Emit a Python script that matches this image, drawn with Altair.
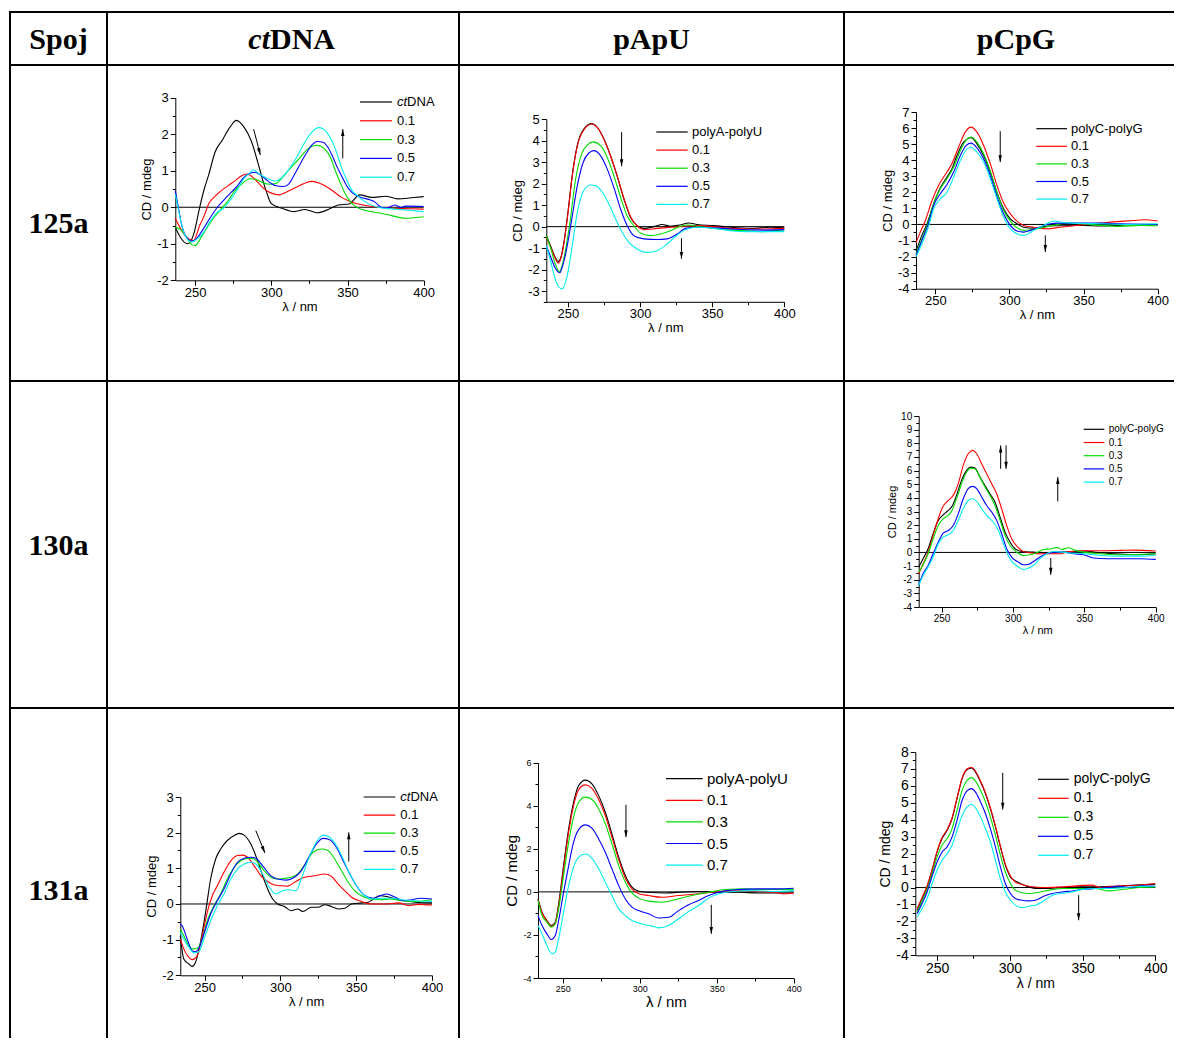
import math
import altair as alt
import pandas as pd

# ---------------------------------------------------------------- labels
HEADERS = ["Spoj", "ctDNA", "pApU", "pCpG"]
ROW_LABELS = ["125a", "130a", "131a"]
RATIOS = ["0.1", "0.3", "0.5", "0.7"]
REF_CT = "ctDNA"
REF_AU = "polyA-polyU"
REF_CG = "polyC-polyG"
COLORS = ["#000000", "#ff0000", "#00dd00", "#0000ff", "#00eeee"]
X_TICKS = [250, 300, 350, 400]
X_MINOR = [275, 325, 375]

# ---------------------------------------------------------------- 125a / ctDNA
C125_REF_X = [237, 240, 245, 249, 253, 256, 259, 263, 268, 273, 277, 282, 287, 291, 294, 297, 300, 307, 315, 322, 330, 338, 344, 351, 358, 366, 375, 383, 392, 400]
C125_REF_Y = [-0.55, -0.8, -1.0, -0.75, 0.0, 0.5, 0.9, 1.5, 1.85, 2.2, 2.38, 2.2, 1.8, 1.25, 0.8, 0.4, 0.1, -0.03, -0.12, -0.06, -0.15, -0.05, 0.06, 0.09, 0.34, 0.27, 0.3, 0.23, 0.26, 0.29]
C125_R1_X = [237, 240, 245, 249, 253, 256, 259, 263, 267, 272, 277, 280, 284, 289, 293, 297, 302, 305, 309, 314, 319, 323, 327, 332, 336, 340, 346, 353, 362, 370, 381, 390, 400]
C125_R1_Y = [-0.3, -0.55, -0.85, -0.91, -0.5, -0.23, 0.1, 0.3, 0.45, 0.6, 0.75, 0.85, 0.91, 0.78, 0.6, 0.45, 0.36, 0.34, 0.4, 0.5, 0.6, 0.68, 0.71, 0.65, 0.57, 0.46, 0.27, 0.14, 0.05, 0.0, -0.03, -0.04, -0.05]
C125_R3_X = [237, 240, 244, 248, 250, 254, 258, 262, 267, 272, 276, 281, 286, 290, 294, 299, 303, 307, 311, 318, 324, 330, 335, 339, 342, 345, 348, 352, 355, 362, 370, 379, 388, 395, 400]
C125_R3_Y = [-0.55, -0.6, -0.8, -1.03, -1.05, -0.82, -0.55, -0.3, -0.05, 0.2, 0.45, 0.65, 0.78, 0.76, 0.68, 0.63, 0.65, 0.8, 1.0, 1.32, 1.6, 1.7, 1.6, 1.35, 1.0, 0.7, 0.41, 0.15, 0.03, -0.09, -0.15, -0.23, -0.3, -0.28, -0.26]
C125_R5_X = [237, 239, 241, 244, 248, 251, 255, 260, 265, 270, 274, 278, 282, 286, 289, 293, 296, 300, 303, 308, 311, 316, 322, 327, 330, 334, 337, 340, 343, 346, 350, 353, 359, 365, 368, 372, 376, 381, 385, 388, 400]
C125_R5_Y = [0.45, 0.0, -0.45, -0.8, -0.93, -0.85, -0.62, -0.28, 0.02, 0.25, 0.42, 0.6, 0.82, 0.93, 0.96, 0.88, 0.78, 0.65, 0.59, 0.57, 0.62, 0.96, 1.41, 1.72, 1.8, 1.78, 1.65, 1.41, 1.12, 0.87, 0.55, 0.4, 0.27, 0.2, 0.14, 0.0, -0.02, 0.06, 0.0, 0.03, 0.02]
C125_R7_X = [237, 239, 241, 244, 248, 251, 255, 260, 265, 268, 274, 278, 282, 286, 288, 292, 296, 300, 303, 306, 309, 316, 322, 327, 331, 334, 338, 342, 346, 350, 353, 357, 362, 370, 375, 381, 392, 400]
C125_R7_Y = [0.35, -0.05, -0.45, -0.82, -0.95, -0.88, -0.72, -0.38, -0.12, -0.05, 0.25, 0.5, 0.78, 0.95, 1.02, 0.92, 0.82, 0.74, 0.72, 0.78, 0.9, 1.32, 1.78, 2.08, 2.18, 2.15, 1.95, 1.6, 1.1, 0.7, 0.46, 0.3, 0.14, 0.0, -0.03, -0.05, -0.09, -0.12]

# ---------------------------------------------------------------- 125a / pApU
U125_REF_X = [235, 238, 241, 243.3, 245, 247.2, 250, 253, 256.5, 261, 266.4, 270.3, 275, 279.5, 284, 288.8, 293.4, 298, 302.6, 309.5, 315.3, 321, 328, 333.8, 339.5, 351, 362.6, 376.5, 390.3, 400]
U125_REF_Y = [-0.4, -0.9, -1.4, -1.63, -1.45, -0.73, 0.67, 2.4, 3.8, 4.55, 4.8, 4.63, 4.08, 3.3, 2.38, 1.29, 0.43, 0.05, -0.08, 0.0, 0.1, 0.02, 0.08, 0.17, 0.1, 0.05, -0.03, -0.08, -0.03, -0.05]
U125_R1_X = [235, 238, 241, 243.5, 245, 247.2, 250, 253, 256.5, 261, 266.4, 270.3, 275, 279.5, 284, 288.8, 293.4, 298, 302.6, 311.8, 321, 330.3, 339.5, 351, 362.6, 376.5, 385.7, 400]
U125_R1_Y = [-0.5, -0.95, -1.45, -1.7, -1.5, -0.8, 0.6, 2.35, 3.75, 4.5, 4.78, 4.62, 4.06, 3.3, 2.4, 1.32, 0.47, 0.02, -0.14, -0.08, -0.03, 0.02, 0.05, 0.0, -0.08, -0.11, -0.11, -0.08]
U125_R3_X = [235, 238, 241, 244.2, 246, 248.4, 251.4, 255.3, 259.9, 263.4, 267.5, 272.6, 277.2, 281.8, 286.5, 291, 295.7, 300.3, 307.2, 314.2, 321, 328, 333.8, 339.5, 351, 362.6, 374, 385.7, 400]
U125_R3_Y = [-0.42, -1.0, -1.7, -2.1, -1.8, -1.04, 0.2, 2.2, 3.46, 3.8, 3.95, 3.77, 3.23, 2.38, 1.37, 0.51, 0.05, -0.3, -0.42, -0.34, -0.19, 0.02, 0.08, 0.02, -0.08, -0.16, -0.19, -0.23, -0.14]
U125_R5_X = [235, 238, 241, 244.4, 246, 248.4, 252.3, 256.5, 260.6, 264.5, 268, 272.6, 277.2, 281.8, 286.5, 291, 295.7, 302.6, 311.8, 318.8, 325.7, 331.5, 339.5, 351, 362.6, 385.7, 400]
U125_R5_Y = [-0.9, -1.4, -1.9, -2.15, -1.9, -1.27, 0.2, 1.91, 3.0, 3.43, 3.54, 3.31, 2.69, 1.83, 0.82, 0.05, -0.42, -0.57, -0.6, -0.57, -0.34, -0.08, -0.03, -0.05, -0.11, -0.16, -0.14]
U125_R7_X = [235, 238, 241, 243.5, 246, 249.5, 253, 256.5, 261, 265.7, 269.2, 273.8, 278.4, 283, 287.6, 292.2, 298, 305, 311.8, 318.8, 325.7, 332.6, 339.5, 351, 362.6, 374, 400]
U125_R7_Y = [-0.9, -1.6, -2.4, -2.8, -2.9, -2.28, -0.89, 0.67, 1.68, 1.94, 1.91, 1.6, 1.06, 0.36, -0.26, -0.73, -1.04, -1.2, -1.12, -0.81, -0.39, -0.11, -0.03, -0.08, -0.19, -0.23, -0.23]

# ---------------------------------------------------------------- 125a / pCpG
G125_REF_X = [237, 241, 244.4, 248.9, 253.4, 257.9, 261.2, 264.6, 269.1, 274.1, 278.1, 282.6, 287.1, 291.6, 296.1, 300.6, 305.1, 309.6, 316.3, 323.1, 329.8, 338.8, 350, 361.3, 374.8, 388.3, 400]
G125_REF_Y = [-1.66, -0.68, 0.04, 1.29, 2.28, 2.95, 3.46, 4.29, 5.12, 5.4, 5.02, 4.29, 3.26, 2.0, 0.98, 0.35, 0.04, -0.17, -0.23, -0.12, -0.08, -0.08, -0.06, -0.1, -0.04, 0.0, -0.02]
G125_R1_X = [237, 239.9, 243.3, 247.8, 252.2, 257.9, 261.2, 265.7, 270.2, 274.1, 278.1, 282.6, 287.1, 291.6, 296.1, 300.6, 305.1, 309.6, 316.3, 325.3, 334.3, 345.6, 361.3, 374.8, 383.8, 390.5, 400]
G125_R1_Y = [-1.14, -0.48, 0.25, 1.49, 2.43, 3.26, 3.78, 4.81, 5.75, 6.06, 5.75, 4.92, 3.78, 2.43, 1.33, 0.66, 0.21, -0.06, -0.17, -0.27, -0.17, -0.06, 0.08, 0.19, 0.25, 0.29, 0.21]
G125_R3_X = [237, 241, 244.8, 248.9, 253.4, 257.9, 262.4, 266.9, 270.9, 274.1, 278.1, 282.6, 287.1, 291.6, 296.1, 300.6, 305.1, 309.6, 314.1, 320.8, 329.8, 338.8, 350, 361.3, 374.8, 388.3, 400]
G125_R3_Y = [-1.83, -0.89, 0.04, 1.29, 2.22, 2.84, 3.57, 4.6, 5.27, 5.44, 5.12, 4.4, 3.32, 2.0, 0.87, 0.21, -0.21, -0.37, -0.33, -0.23, -0.06, 0.08, 0.04, -0.06, -0.12, -0.06, -0.08]
G125_R5_X = [237, 241, 245, 248.9, 253.4, 257.9, 262.4, 266.9, 270.9, 274.1, 278.1, 282.6, 287.1, 291.6, 296.1, 300.6, 305.1, 309.6, 314.1, 318.6, 325.3, 334.3, 347.8, 361.3, 374.8, 400]
G125_R5_Y = [-1.93, -1.0, -0.06, 1.18, 1.91, 2.49, 3.26, 4.29, 4.92, 5.06, 4.77, 4.09, 3.05, 1.74, 0.66, -0.06, -0.41, -0.48, -0.37, -0.23, 0.0, 0.08, 0.08, 0.08, 0.04, 0.0]
G125_R7_X = [237, 241, 245.4, 248.9, 253.4, 257.9, 262.4, 266.9, 270.9, 274.1, 278.1, 282.6, 287.1, 291.6, 296.1, 300.6, 305.1, 308.5, 311.8, 316.3, 323.1, 329.8, 334.3, 343.3, 361.3, 379.3, 400]
G125_R7_Y = [-2.03, -1.2, -0.17, 0.98, 1.6, 2.0, 2.95, 3.98, 4.65, 4.81, 4.5, 3.88, 2.84, 1.6, 0.46, -0.27, -0.58, -0.68, -0.62, -0.37, -0.06, 0.21, 0.15, 0.08, 0.04, 0.0, 0.04]

# ---------------------------------------------------------------- 130a / pCpG
G130_REF_X = [234, 237.1, 240.6, 244.1, 247.7, 250.7, 254.7, 257.7, 260.5, 264, 267.6, 270.6, 273.4, 276.9, 280.4, 283.9, 287.4, 291, 294.5, 298, 301.5, 306.2, 314.4, 326, 337.8, 349.5, 361.2, 375.2, 384.6, 400]
G130_REF_Y = [-1.07, -0.46, 0.27, 1.37, 2.35, 2.71, 3.08, 3.44, 4.18, 5.28, 6.01, 6.25, 6.18, 5.52, 4.91, 4.3, 3.69, 2.59, 1.49, 0.76, 0.27, 0.07, 0.02, -0.02, 0.02, 0.1, -0.02, -0.12, -0.17, -0.1]
G130_R1_X = [234, 237.1, 240.6, 244.1, 247.7, 250.7, 254.7, 258.2, 261.7, 265.2, 268.7, 271.8, 274.6, 278.1, 281.6, 285.1, 288.6, 292.1, 295.6, 299.1, 302.7, 307.3, 312, 319, 324.9, 333.1, 337.8, 349.5, 361.2, 375.2, 384.6, 400]
G130_R1_Y = [-1.56, -0.83, 0.02, 1.25, 2.47, 3.32, 3.81, 4.18, 5.03, 6.38, 7.23, 7.48, 7.23, 6.5, 5.77, 5.03, 4.3, 3.2, 1.98, 1.0, 0.46, 0.07, -0.02, -0.1, -0.1, -0.1, 0.02, 0.12, 0.12, 0.15, 0.17, 0.1]
G130_R3_X = [234, 237.1, 240.6, 244.1, 247.7, 251.2, 254.7, 257.7, 260.5, 264, 267.6, 270.6, 273.4, 276.9, 280.4, 283.9, 287.4, 291, 294.5, 298, 302.7, 307.3, 312, 316.7, 321.4, 327.2, 330.7, 334.2, 338.9, 343.6, 349.5, 361.2, 375.2, 400]
G130_R3_Y = [-1.44, -0.9, -0.1, 1.0, 1.98, 2.47, 2.71, 3.15, 3.93, 5.03, 5.89, 6.18, 6.13, 5.52, 4.79, 4.18, 3.44, 2.35, 1.25, 0.51, 0.02, -0.22, -0.17, -0.02, 0.22, 0.27, 0.37, 0.22, 0.34, 0.15, 0.02, -0.1, -0.17, -0.1]
G130_R5_X = [234, 237.1, 240.6, 244.1, 247.7, 251.2, 254.7, 258.2, 261.7, 265.2, 268.7, 271.8, 274.6, 278.1, 281.6, 285.1, 288.6, 292.1, 295.6, 299.1, 303.8, 307.3, 310.8, 314.4, 319, 323.7, 328.4, 335.4, 342.4, 349.5, 356.5, 365.8, 375.2, 389.2, 400]
G130_R5_Y = [-2.37, -1.56, -0.95, -0.1, 0.76, 1.42, 1.61, 1.98, 2.83, 3.93, 4.67, 4.84, 4.67, 4.06, 3.44, 2.96, 2.35, 1.37, 0.27, -0.34, -0.71, -0.9, -0.88, -0.66, -0.34, -0.1, 0.02, 0.02, -0.1, -0.17, -0.41, -0.46, -0.46, -0.46, -0.51]
G130_R7_X = [234, 237.1, 240.6, 244.1, 247.7, 251.2, 254.7, 258.2, 261.7, 265.2, 268.7, 271.8, 274.6, 278.1, 281.6, 285.1, 288.6, 292.1, 295.6, 299.1, 303.8, 307.3, 310.8, 314.4, 319, 323.7, 328.4, 337.8, 349.5, 361.2, 375.2, 389.2, 400]
G130_R7_Y = [-2.42, -1.69, -1.07, -0.34, 0.64, 1.12, 1.29, 1.61, 2.35, 3.2, 3.81, 3.93, 3.74, 3.2, 2.71, 2.35, 1.86, 1.0, 0.02, -0.66, -1.07, -1.25, -1.15, -0.95, -0.46, -0.1, 0.07, -0.02, -0.1, -0.22, -0.27, -0.27, -0.22]

# ---------------------------------------------------------------- 131a / ctDNA
C131_REF_X = [234, 236.3, 239.6, 241.8, 244, 247.3, 250.7, 254, 257.3, 260.6, 265, 269.5, 272.8, 276.1, 280.5, 285, 288.3, 291.6, 294.9, 298.2, 302.7, 307.1, 311.5, 314.8, 320.4, 324.8, 329.2, 333.6, 338.1, 342.5, 346.9, 353.5, 358, 361.3, 365.7, 370.1, 375.7, 382.3, 389, 400]
C131_REF_Y = [-0.89, -1.54, -1.68, -1.75, -1.64, -1.07, -0.23, 0.7, 1.26, 1.54, 1.78, 1.92, 1.98, 1.93, 1.68, 1.21, 0.79, 0.42, 0.14, 0.0, -0.07, -0.19, -0.14, -0.21, -0.09, -0.09, -0.02, -0.07, -0.14, -0.12, 0.0, 0.03, 0.05, 0.14, 0.23, 0.21, 0.14, 0.09, 0.05, 0.03]
C131_R1_X = [234, 236.3, 239.6, 241.8, 245.1, 248.5, 251.8, 255.1, 258.4, 262.8, 267.3, 271.7, 275, 278.3, 282.7, 287.2, 291.6, 296, 300.4, 304.9, 309.3, 315.9, 322.6, 329.2, 333.6, 338.1, 342.5, 346.9, 353.5, 360.2, 369, 377.9, 384.5, 391.2, 400]
C131_R1_Y = [-0.98, -1.26, -1.5, -1.56, -1.45, -0.89, -0.23, 0.23, 0.51, 0.89, 1.21, 1.36, 1.37, 1.31, 1.07, 0.79, 0.63, 0.53, 0.51, 0.5, 0.61, 0.75, 0.79, 0.84, 0.78, 0.56, 0.37, 0.19, 0.07, 0.0, 0.0, 0.03, -0.05, -0.01, -0.03]
C131_R3_X = [234, 236.3, 239.6, 241.8, 245.1, 248.5, 251.8, 256.2, 260.6, 265, 269.5, 273.9, 278.3, 281.6, 285, 289.4, 293.8, 298.2, 302.7, 307.1, 311.5, 315.9, 321.5, 327, 331.4, 335.8, 340.3, 344.7, 349.1, 353.5, 359, 365.7, 372.3, 380, 389, 400]
C131_R3_Y = [-0.7, -0.89, -1.17, -1.26, -1.24, -0.98, -0.47, -0.05, 0.28, 0.7, 1.03, 1.21, 1.28, 1.28, 1.17, 0.93, 0.75, 0.7, 0.72, 0.75, 0.84, 1.09, 1.45, 1.54, 1.5, 1.26, 0.93, 0.61, 0.37, 0.23, 0.14, 0.12, 0.14, 0.09, 0.07, 0.12]
C131_R5_X = [234, 235.2, 238.5, 241.8, 244, 246.2, 249.6, 254, 258.4, 262.8, 267.3, 271.7, 276.1, 280.5, 283.8, 288.3, 293.8, 298.2, 303.8, 309.3, 313.7, 318.1, 323.7, 328.1, 332.5, 336.9, 341.4, 345.8, 350.2, 355.8, 361.3, 365.7, 370.1, 375.7, 381.2, 386.7, 392.3, 400]
C131_R5_Y = [-0.56, -0.61, -0.98, -1.31, -1.34, -1.24, -0.84, -0.28, 0.09, 0.42, 0.84, 1.17, 1.28, 1.31, 1.28, 1.07, 0.79, 0.7, 0.67, 0.75, 0.93, 1.26, 1.68, 1.84, 1.8, 1.59, 1.21, 0.84, 0.51, 0.23, 0.16, 0.23, 0.28, 0.19, 0.09, 0.12, 0.16, 0.14]
C131_R7_X = [234, 236.3, 239.6, 242.9, 246.2, 249.6, 254, 258.4, 262.8, 267.3, 271.7, 276.1, 280.5, 283.8, 288.3, 292.7, 297.1, 301.5, 306, 310.4, 313.7, 318.1, 323.7, 328.1, 332.5, 336.9, 341.4, 345.8, 350.2, 355.8, 361.3, 366.8, 373.5, 380, 389, 400]
C131_R7_Y = [-0.79, -0.98, -1.21, -1.37, -1.34, -0.98, -0.47, -0.05, 0.28, 0.7, 0.98, 1.12, 1.17, 1.12, 0.84, 0.47, 0.28, 0.37, 0.4, 0.37, 0.7, 1.21, 1.73, 1.93, 1.87, 1.64, 1.26, 0.84, 0.51, 0.23, 0.14, 0.16, 0.16, 0.12, 0.09, 0.07]

# ---------------------------------------------------------------- 131a / pApU
U131_REF_X = [234, 236.6, 239.8, 242.6, 245.2, 247.4, 250.6, 253.9, 257.1, 260.4, 264.7, 269, 273.4, 277.7, 282, 286.4, 290.7, 295, 299.4, 305.8, 316.7, 325.3, 338.3, 351.3, 364.3, 377.3, 390.3, 400]
U131_REF_Y = [-0.33, -0.94, -1.33, -1.56, -1.41, -0.56, 1.22, 2.93, 4.16, 4.94, 5.19, 5.02, 4.47, 3.7, 2.69, 1.61, 0.76, 0.22, 0.03, -0.02, -0.05, -0.02, 0.02, -0.02, -0.02, -0.05, -0.05, -0.05]
U131_R1_X = [234, 236.6, 239.8, 242.6, 245.2, 247.4, 250.6, 253.9, 257.1, 260.4, 264.7, 269, 273.4, 277.7, 282, 286.4, 290.7, 295, 299.4, 305.8, 314.5, 325.3, 338.3, 351.3, 364.3, 377.3, 388.1, 392.4, 400]
U131_R1_Y = [-0.36, -0.97, -1.36, -1.6, -1.45, -0.64, 1.07, 2.77, 4.01, 4.75, 4.97, 4.81, 4.29, 3.54, 2.54, 1.5, 0.63, 0.14, -0.09, -0.17, -0.25, -0.17, -0.09, 0.02, 0.06, 0.02, -0.02, -0.09, -0.05]
U131_R3_X = [234, 236.6, 239.8, 242.6, 245.2, 247.4, 250.6, 253.9, 257.1, 260.4, 264.7, 269, 273.4, 277.7, 282, 286.4, 290.7, 295, 299.4, 305.8, 314.5, 323.2, 334, 344.8, 355.6, 368.6, 381.6, 400]
U131_R3_Y = [-0.4, -1.1, -1.41, -1.64, -1.49, -0.79, 0.76, 2.31, 3.47, 4.16, 4.4, 4.29, 3.85, 3.16, 2.23, 1.22, 0.45, -0.05, -0.29, -0.43, -0.48, -0.36, -0.17, -0.02, 0.11, 0.14, 0.11, 0.11]
U131_R5_X = [234, 236.6, 239.8, 242.6, 245.2, 247.4, 250.6, 253.9, 257.1, 260.4, 264.7, 269, 273.4, 277.7, 282, 286.4, 290.7, 295, 299.4, 305.8, 312.3, 318.8, 325.3, 331.8, 338.3, 344.8, 353.5, 364.3, 377.3, 390.3, 400]
U131_R5_Y = [-1.1, -1.56, -1.95, -2.21, -2.03, -1.33, -0.02, 1.22, 2.31, 2.89, 3.11, 2.96, 2.46, 1.84, 1.07, 0.29, -0.33, -0.71, -0.87, -1.02, -1.21, -1.18, -0.87, -0.6, -0.4, -0.17, 0.02, 0.11, 0.14, 0.14, 0.17]
U131_R7_X = [234, 236.6, 239.8, 243.1, 245.2, 247.4, 250.6, 253.9, 257.1, 260.4, 264.7, 269, 273.4, 277.7, 282, 286.4, 290.7, 295, 301.5, 308, 312.3, 318.8, 325.3, 331.8, 338.3, 344.8, 351.3, 360, 373, 386, 400]
U131_R7_Y = [-1.56, -1.95, -2.49, -2.88, -2.8, -2.18, -0.94, 0.29, 1.15, 1.61, 1.76, 1.56, 1.07, 0.45, -0.17, -0.79, -1.1, -1.33, -1.49, -1.59, -1.67, -1.56, -1.25, -0.91, -0.63, -0.29, -0.09, 0.02, 0.06, 0.02, 0.06]

# ---------------------------------------------------------------- 131a / pCpG
G131_REF_X = [236.3, 239.7, 243.1, 246.6, 250, 253.4, 256.9, 260.3, 263.7, 267.2, 270.6, 273.6, 276.3, 279.8, 283.2, 286.6, 290.1, 293.5, 296.9, 300.4, 303.8, 308.4, 313, 317.6, 324.4, 335.9, 347.3, 358.8, 372.5, 386.2, 400]
G131_REF_Y = [-1.34, -0.65, 0.04, 1.02, 2.1, 2.89, 3.38, 4.07, 5.25, 6.43, 6.96, 7.06, 6.83, 6.24, 5.55, 4.66, 3.58, 2.4, 1.32, 0.63, 0.39, 0.2, 0.04, -0.06, -0.06, 0.0, 0.04, 0.04, 0.08, 0.14, 0.2]
G131_R1_X = [236.3, 239.7, 243.1, 246.6, 250, 253.4, 256.9, 260.3, 263.7, 267.2, 270.6, 273.6, 276.3, 279.8, 283.2, 286.6, 290.1, 293.5, 296.9, 300.4, 303.8, 308.4, 313, 324.4, 335.9, 356.5, 362, 372.5, 386.2, 400]
G131_R1_Y = [-1.24, -0.58, 0.1, 1.08, 2.15, 2.95, 3.42, 4.12, 5.3, 6.48, 7.0, 7.1, 6.88, 6.3, 5.6, 4.72, 3.64, 2.46, 1.38, 0.68, 0.33, 0.18, 0.08, 0.0, 0.04, 0.14, 0.0, 0.08, 0.12, 0.24]
G131_R3_X = [236.3, 239.7, 243.1, 246.6, 250, 253.4, 256.9, 260.3, 263.7, 267.2, 270.6, 273.6, 276.3, 279.8, 283.2, 286.6, 290.1, 293.5, 296.9, 300.4, 303.8, 308.4, 313, 317.6, 324.4, 335.9, 347.3, 358.8, 368, 377.1, 388.5, 400]
G131_R3_Y = [-1.44, -0.79, -0.12, 0.83, 1.81, 2.5, 2.89, 3.48, 4.56, 5.74, 6.33, 6.49, 6.3, 5.74, 5.06, 4.17, 3.09, 1.91, 0.92, 0.24, -0.16, -0.31, -0.35, -0.31, -0.2, -0.06, -0.06, -0.06, -0.2, -0.12, 0.0, 0.04]
G131_R5_X = [236.3, 239.7, 243.1, 246.6, 250, 253.4, 256.9, 260.3, 263.7, 267.2, 270.6, 273.6, 276.3, 279.8, 283.2, 286.6, 290.1, 293.5, 296.9, 300.4, 303.8, 308.4, 313, 317.6, 323.3, 329, 335.9, 342.7, 349.6, 358.8, 368, 374.8, 381.7, 390.8, 400]
G131_R5_Y = [-1.53, -0.94, -0.26, 0.67, 1.51, 2.1, 2.4, 2.99, 3.97, 5.15, 5.71, 5.84, 5.65, 5.06, 4.37, 3.48, 2.4, 1.22, 0.24, -0.35, -0.65, -0.75, -0.79, -0.75, -0.51, -0.35, -0.26, -0.2, -0.12, -0.06, 0.0, 0.08, 0.0, 0.1, 0.08]
G131_R7_X = [236.3, 239.7, 243.1, 246.6, 250, 253.4, 256.9, 260.3, 263.7, 267.2, 270.6, 273.6, 276.3, 279.8, 283.2, 286.6, 290.1, 293.5, 296.9, 300.4, 303.8, 307.2, 309.5, 313, 317.6, 322.1, 326.7, 331.3, 335.9, 342.7, 349.6, 358.8, 368, 379.4, 390.8, 400]
G131_R7_Y = [-1.73, -1.24, -0.65, 0.24, 1.02, 1.61, 2.0, 2.5, 3.38, 4.27, 4.76, 4.92, 4.72, 4.17, 3.48, 2.7, 1.61, 0.53, -0.26, -0.75, -1.04, -1.18, -1.18, -1.1, -1.04, -0.85, -0.59, -0.39, -0.35, -0.26, -0.12, -0.06, -0.06, 0.0, 0.08, 0.08]

# ---------------------------------------------------------------- arrows (x1, y1) -> (x2, y2), head at end
C125_ARROWS = [(288.4, 2.14, 292.8, 1.43), (346.9, 1.34, 346.9, 2.14)]
U125_ARROWS = [(287.2, 4.4, 287.2, 2.81), (328.7, -0.54, 328.7, -1.5)]
G125_ARROWS = [(293.8, 5.81, 293.8, 3.88), (324.2, -0.68, 324.2, -1.72)]
G130_ARROWS = [(291.4, 6.13, 291.4, 7.84), (295.2, 7.84, 295.2, 6.13), (331.4, 3.74, 331.4, 5.52), (326.5, -0.41, 326.5, -1.64)]
C131_ARROWS = [(283.8, 2.06, 289.8, 1.43), (345.1, 1.19, 345.1, 2.01)]
U131_ARROWS = [(291.1, 4.04, 291.1, 2.54), (346.5, -0.6, 346.5, -1.95)]
G131_ARROWS = [(295.1, 6.77, 295.1, 4.6), (347.3, -0.45, 347.3, -1.93)]

# ---------------------------------------------------------------- layout
SANS = "Liberation Sans"
SERIF = "Liberation Serif"
COL_W = [97, 352, 385, 330]
ROW_H = [53, 316, 327, 330]
HEAD = "M0,0L0.45,1.8L-0.45,1.8Z"


def edge_rules(w, h, top=False, bottom=False):
    """Table borders drawn as rules (left edge always; top/bottom optional)."""
    bdf = pd.DataFrame({"a": [0]})
    out = [alt.Chart(bdf).mark_rule(color="black", strokeWidth=2).encode(
        x=alt.value(0), y=alt.value(0), y2=alt.value(h))]
    if top:
        out.append(alt.Chart(bdf).mark_rule(color="black", strokeWidth=2).encode(
            x=alt.value(0), x2=alt.value(w), y=alt.value(0)))
    if bottom:
        out.append(alt.Chart(bdf).mark_rule(color="black", strokeWidth=2).encode(
            x=alt.value(0), x2=alt.value(w), y=alt.value(h)))
    return out


def frame(w, h, open_bottom, last_col):
    """Return (extra layers, view) for a table cell."""
    if last_col:
        return edge_rules(w, h, top=not open_bottom, bottom=not open_bottom), \
            alt.ViewBackground(stroke="transparent")
    if open_bottom:
        return edge_rules(w, h), alt.ViewBackground(stroke="transparent")
    return [], alt.ViewBackground(stroke="black", strokeWidth=2)


def make_plot(w, h, xd, xr, yd, yr, ystep, tick, title, leg, lx, lL, lgap, ly0, ldy,
              ref, xs_list, ys_list, arrows, open_bottom=False, last_col=False):
    names = [ref] + RATIOS
    rows = []
    for k, (nm, xs, ys) in enumerate(zip(names, xs_list, ys_list)):
        for x, y in zip(xs, ys):
            rows.append({"x": x, "y": y, "s": nm, "k": k})
    df = pd.DataFrame(rows)

    sx = (xr[1] - xr[0]) / (xd[1] - xd[0])
    sy = (yr[0] - yr[1]) / (yd[1] - yd[0])
    arows = []
    for (x1, y1, x2, y2) in arrows:
        dx = (x2 - x1) * sx
        dys = -(y2 - y1) * sy
        ang = math.degrees(math.atan2(dx, -dys)) % 360
        arows.append({"x1": x1, "y1": y1, "x2": x2, "y2": y2, "ang": ang})
    adf = pd.DataFrame(arows)

    xsc = alt.Scale(domain=xd, range=xr, nice=False, zero=False)
    ysc = alt.Scale(domain=yd, range=yr, nice=False, zero=False)
    xoff = yr[0] - h
    yoff = -xr[0]
    start = int(math.ceil(yd[0] / ystep) * ystep)
    ymaj = list(range(start, int(math.floor(yd[1])) + 1, ystep))
    ymin = [m + ystep / 2 for m in [ymaj[0] - ystep] + ymaj if yd[0] <= m + ystep / 2 < yd[1]]

    common = dict(grid=False, domainColor="black", domainWidth=1, tickColor="black", tickWidth=1,
                  labelFont=SANS, labelColor="black", labelFlush=False, labelOverlap=False)
    xaxis = alt.Axis(orient="bottom", offset=xoff, values=X_TICKS, tickSize=5, labelPadding=1,
                     labelFontSize=tick, labelExpr="toString(datum.value)", title="λ / nm",
                     titleFont=SANS, titleFontSize=title, titleFontWeight="normal",
                     titleColor="black", titlePadding=1, **common)
    yaxis = alt.Axis(orient="left", offset=yoff, values=ymaj, tickSize=5, labelPadding=2,
                     labelFontSize=tick, labelExpr="toString(datum.value)", title="CD / mdeg",
                     titleFont=SANS, titleFontSize=title, titleFontWeight="normal",
                     titleColor="black", titlePadding=3, **common)
    xminor = alt.Axis(orient="bottom", offset=xoff, values=X_MINOR, tickSize=3, labels=False,
                      domain=False, grid=False, tickColor="black", title=None)
    yminor = alt.Axis(orient="left", offset=yoff, values=ymin, tickSize=3, labels=False,
                      domain=False, grid=False, tickColor="black", title=None)

    italic_ref = ref == REF_CT
    sym_off = lL / 2 - leg / 2
    leg_kw = dict(orient="none", legendX=lx, legendY=ly0 - leg / 2, title=None,
                  symbolType="M-4,0H4", symbolSize=(lL / 4) ** 2, symbolStrokeWidth=1.2,
                  symbolOffset=sym_off, labelOffset=lL + lgap - leg - sym_off,
                  labelFont=SANS, labelFontSize=leg, labelColor="black",
                  rowPadding=ldy - leg, padding=0)
    if italic_ref:
        leg_kw["labelExpr"] = "datum.label == '%s' ? '' : datum.label" % REF_CT
    legend = alt.Legend(**leg_kw)

    zero = alt.Chart(pd.DataFrame({"a": [xd[0]], "b": [xd[1]], "z": [0]})).mark_rule(
        color="black", strokeWidth=1).encode(
        x=alt.X("a:Q", scale=xsc, axis=None), x2="b:Q", y=alt.Y("z:Q", scale=ysc, axis=None))
    lines = alt.Chart(df).mark_line(strokeWidth=1.1, interpolate="monotone").encode(
        x=alt.X("x:Q", scale=xsc, axis=xaxis),
        y=alt.Y("y:Q", scale=ysc, axis=yaxis),
        color=alt.Color("s:N", scale=alt.Scale(domain=names, range=COLORS), legend=legend,
                        sort=names),
    )
    minor = alt.Chart(df).mark_line(strokeOpacity=0).encode(
        x=alt.X("x:Q", scale=xsc, axis=xminor), y=alt.Y("y:Q", scale=ysc, axis=yminor),
        detail="s:N")
    arr = alt.Chart(adf).mark_rule(color="black", strokeWidth=1).encode(
        x=alt.X("x1:Q", scale=xsc, axis=None), y=alt.Y("y1:Q", scale=ysc, axis=None),
        x2="x2:Q", y2="y2:Q")
    heads = alt.Chart(adf).mark_point(shape=HEAD, filled=True, color="black", opacity=1,
                                      size=60, strokeWidth=0).encode(
        x=alt.X("x2:Q", scale=xsc, axis=None), y=alt.Y("y2:Q", scale=ysc, axis=None),
        angle=alt.Angle("ang:Q", scale=None))
    layers = [zero, lines, minor, arr, heads]
    if italic_ref:
        tx = lx + lL + lgap
        tdf = pd.DataFrame({"t": [REF_CT]})
        layers.append(alt.Chart(tdf).mark_text(
            font=SANS, fontSize=leg, fontStyle="italic", align="left", baseline="middle",
            color="black").encode(text=alt.Text("t:N"), x=alt.value(tx), y=alt.value(ly0))
            .transform_calculate(t="substring(datum.t, 0, 2)"))
        layers.append(alt.Chart(tdf).mark_text(
            font=SANS, fontSize=leg, align="left", baseline="middle",
            color="black").encode(text=alt.Text("t:N"), x=alt.value(tx + 0.778 * leg),
                                  y=alt.value(ly0))
            .transform_calculate(t="substring(datum.t, 2)"))
    extra, view = frame(w, h, open_bottom, last_col)
    layers.extend(extra)
    return alt.layer(*layers).resolve_axis(x="independent", y="independent").properties(
        width=w, height=h, view=view)


def text_cell(w, h, parts, open_bottom=False, last_col=False):
    layers = []
    for (txt, px, py, style, align) in parts:
        layers.append(alt.Chart(pd.DataFrame({"t": [txt]})).mark_text(
            font=SERIF, fontWeight="bold", fontStyle=style, fontSize=30, align=align,
            baseline="alphabetic", color="black").encode(
            text="t:N", x=alt.value(px), y=alt.value(py)))
    extra, view = frame(w, h, open_bottom, last_col)
    layers.extend(extra)
    return alt.layer(*layers).properties(width=w, height=h, view=view)


hb = 36.7
cells = [
    text_cell(COL_W[0], ROW_H[0], [(HEADERS[0], COL_W[0] / 2, hb, "normal", "center")]),
    text_cell(COL_W[1], ROW_H[0], [("ct", 163, hb, "italic", "right"),
                                   (HEADERS[1][2:], 163, hb, "normal", "left")]),
    text_cell(COL_W[2], ROW_H[0], [(HEADERS[2], COL_W[2] / 2, hb, "normal", "center")]),
    text_cell(COL_W[3], ROW_H[0], [(HEADERS[3], 172, hb, "normal", "center")], last_col=True),

    text_cell(COL_W[0], ROW_H[1], [(ROW_LABELS[0], 48.5, 168, "normal", "center")]),
    make_plot(COL_W[1], ROW_H[1], [237, 400], [68.3, 316.7], [-2, 3], [215.3, 32.7], 1,
              13, 13, 13, 253, 32, 5, 37, 17.8, REF_CT,
              [C125_REF_X, C125_R1_X, C125_R3_X, C125_R5_X, C125_R7_X],
              [C125_REF_Y, C125_R1_Y, C125_R3_Y, C125_R5_Y, C125_R7_Y], C125_ARROWS),
    make_plot(COL_W[2], ROW_H[1], [235, 400], [87.3, 325.3], [-3.5, 5], [236.8, 54.3], 1,
              13, 13, 13, 197.3, 31.4, 4.3, 67, 17.1, REF_AU,
              [U125_REF_X, U125_R1_X, U125_R3_X, U125_R5_X, U125_R7_X],
              [U125_REF_Y, U125_R1_Y, U125_R3_Y, U125_R5_Y, U125_R7_Y], U125_ARROWS),
    make_plot(COL_W[3], ROW_H[1], [237, 400], [72, 313.7], [-4, 7], [223.7, 47], 1,
              13, 13, 13, 192.3, 30.7, 4, 63.7, 16.6, REF_CG,
              [G125_REF_X, G125_R1_X, G125_R3_X, G125_R5_X, G125_R7_X],
              [G125_REF_Y, G125_R1_Y, G125_R3_Y, G125_R5_Y, G125_R7_Y], G125_ARROWS,
              last_col=True),

    text_cell(COL_W[0], ROW_H[2], [(ROW_LABELS[1], 48.5, 174, "normal", "center")]),
    text_cell(COL_W[1], ROW_H[2], [("", 0, 0, "normal", "center")]),
    text_cell(COL_W[2], ROW_H[2], [("", 0, 0, "normal", "center")]),
    make_plot(COL_W[3], ROW_H[2], [234, 400], [74.7, 311.7], [-4, 10], [226, 35], 1,
              10, 11, 10, 239.7, 20.6, 4.4, 48.3, 13.2, REF_CG,
              [G130_REF_X, G130_R1_X, G130_R3_X, G130_R5_X, G130_R7_X],
              [G130_REF_Y, G130_R1_Y, G130_R3_Y, G130_R5_Y, G130_R7_Y], G130_ARROWS,
              last_col=True),

    text_cell(COL_W[0], ROW_H[3], [(ROW_LABELS[2], 48.5, 192, "normal", "center")], open_bottom=True),
    make_plot(COL_W[1], ROW_H[3], [234, 400], [73.3, 325], [-2, 3], [267.3, 89], 1,
              13, 13, 13, 256.7, 31.6, 5, 89, 17.1, REF_CT,
              [C131_REF_X, C131_R1_X, C131_R3_X, C131_R5_X, C131_R7_X],
              [C131_REF_Y, C131_R1_Y, C131_R3_Y, C131_R5_Y, C131_R7_Y], C131_ARROWS,
              open_bottom=True),
    make_plot(COL_W[2], ROW_H[3], [234, 400], [79, 334.7], [-4, 6], [270, 54.7], 2,
              9, 15, 15, 207, 36.7, 4.3, 70.7, 20.6, REF_AU,
              [U131_REF_X, U131_R1_X, U131_R3_X, U131_R5_X, U131_R7_X],
              [U131_REF_Y, U131_R1_Y, U131_R3_Y, U131_R5_Y, U131_R7_Y], U131_ARROWS,
              open_bottom=True),
    make_plot(COL_W[3], ROW_H[3], [235, 400], [71.3, 311.3], [-4, 8], [247.3, 44], 1,
              14, 14, 14, 194, 30.7, 5, 71.3, 19, REF_CG,
              [G131_REF_X, G131_R1_X, G131_R3_X, G131_R5_X, G131_R7_X],
              [G131_REF_Y, G131_R1_Y, G131_R3_Y, G131_R5_Y, G131_R7_Y], G131_ARROWS,
              open_bottom=True, last_col=True),
]

chart = alt.concat(*cells, columns=4, spacing=0, bounds="flush").resolve_scale(
    x="independent", y="independent", color="independent").resolve_legend(
    color="independent").properties(
    padding={"left": 0, "top": 2, "right": 0, "bottom": 0})

chart.save("out.html", embed_options={"renderer": "svg", "actions": False})
